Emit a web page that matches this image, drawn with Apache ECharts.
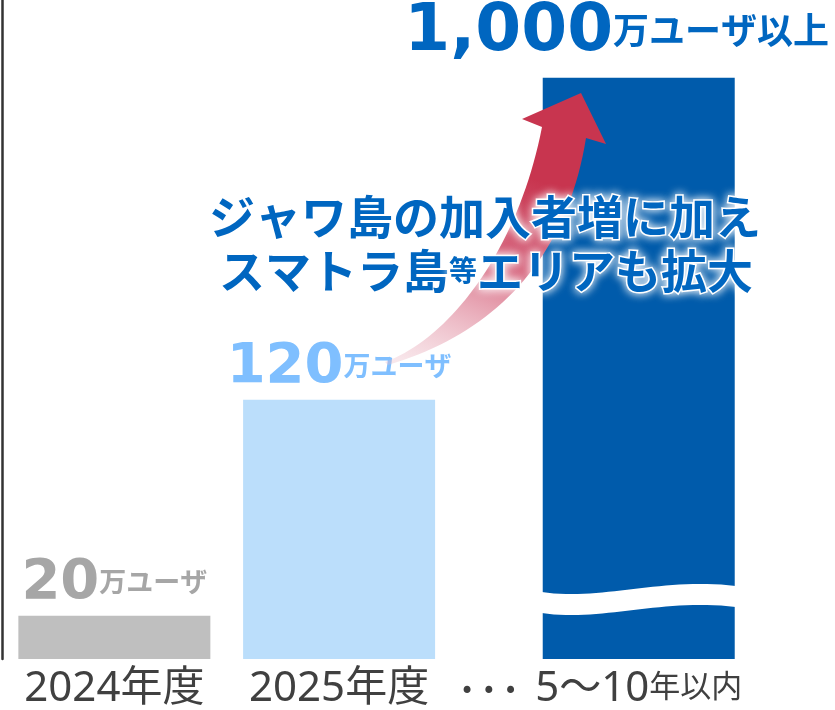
<!DOCTYPE html>
<html>
<head>
<meta charset="utf-8">
<script src="https://cdn.jsdelivr.net/npm/echarts@6/dist/echarts.min.js"></script>
<style>
  html, body { margin: 0; padding: 0; background: #fff; }
  #main { width: 835px; height: 710px; }
</style>
</head>
<body>
<div id="main"></div>
<script>
// data
const categories = ['2024年度', '2025年度', '5～10年以内'];
const users = [20, 120, 1000]; // 万ユーザ
const unitLabels = ['万ユーザ', '万ユーザ', '万ユーザ以上'];
const gapLabel = '• • •';
const noteLines = ['ジャワ島の加入者増に加え', ['スマトラ島', '等', 'エリアも拡大']];

const barColors = ['#bfbfbf', '#bbdefb', '#005bab'];
const labelColors = ['#a6a6a6', '#7fbfff', '#0066c0'];

// layout: bars sit on a slotted category axis so the gap before the last bar is wider
const slotCount = 11;
const barSlots = [1, 4, 8];
const dotsSlot = 6;

const xData = [];
for (let i = 0; i < slotCount; i++) xData.push('s' + i);

const seriesData = xData.map(() => '-');
barSlots.forEach((s, i) => {
    seriesData[s] = {
        value: users[i],
        itemStyle: { color: barColors[i] }
    };
});

const glow = { textShadowColor: '#fff', textShadowBlur: 8 };
const labelRich = {
    n0: Object.assign({ fontFamily: 'DejaVu Sans', fontWeight: 'bold', fontSize: 56, color: labelColors[0] }, glow),
    u0: Object.assign({ fontFamily: 'Noto Sans CJK JP', fontWeight: 'bold', fontSize: 27, color: labelColors[0], padding: [0, 0, 4, 0] }, glow),
    n1: Object.assign({ fontFamily: 'DejaVu Sans', fontWeight: 'bold', fontSize: 56, color: labelColors[1] }, glow),
    u1: Object.assign({ fontFamily: 'Noto Sans CJK JP', fontWeight: 'bold', fontSize: 27, color: labelColors[1], padding: [0, 0, 4, 0] }, glow),
    n2: Object.assign({ fontFamily: 'DejaVu Sans', fontWeight: 'bold', fontSize: 66, color: labelColors[2] }, glow),
    u2: Object.assign({ fontFamily: 'Noto Sans CJK JP', fontWeight: 'bold', fontSize: 36, color: labelColors[2], padding: [0, 0, 5, 0] }, glow)
};

const axisFont = '"Noto Sans", "Noto Sans CJK JP", sans-serif';

const option = {
    animation: false,
    backgroundColor: '#fff',
    grid: { left: 2, top: 0, width: 824, bottom: 51 },
    xAxis: {
        type: 'category',
        data: xData,
        axisLine: { show: false },
        axisTick: { show: false },
        axisLabel: {
            interval: 0,
            margin: 9,
            formatter: function (value, idx) {
                const k = barSlots.indexOf(idx);
                if (k === 2) {
                    const m = categories[k].match(/^([0-9～]+)(.*)$/);
                    return '{big|' + m[1] + '}{small|' + m[2] + '}';
                }
                if (k >= 0) return '{big|' + categories[k] + '}';
                if (idx === dotsSlot) return '{dots|' + gapLabel + '}';
                return '';
            },
            rich: {
                big: { fontFamily: axisFont, fontSize: 42, color: '#404040' },
                small: { fontFamily: axisFont, fontSize: 31, color: '#404040', padding: [0, 0, 2, 0] },
                dots: { fontFamily: 'DejaVu Sans', fontSize: 24, color: '#404040', lineHeight: 50, verticalAlign: 'middle' }
            }
        }
    },
    yAxis: [{
        type: 'value',
        min: 0,
        max: 1036,
        breaks: [{ start: 200, end: 960, gap: 29 }],
        breakArea: { show: false },
        axisLine: { show: false },
        axisTick: { show: false },
        axisLabel: { show: false },
        splitLine: { show: false }
    }, {
        // plain left rule, drawn unbroken
        type: 'value',
        position: 'left',
        min: 0,
        max: 1,
        axisLine: { show: true, onZero: false, lineStyle: { color: '#333', width: 2.5 } },
        axisTick: { show: false },
        axisLabel: { show: false },
        splitLine: { show: false }
    }],
    series: [{
        type: 'bar',
        barWidth: 192,
        data: seriesData,
        z: 2,
        label: {
            show: true,
            position: 'top',
            distance: 4,
            formatter: function (p) {
                const k = barSlots.indexOf(p.dataIndex);
                return '{n' + k + '|' + users[k].toLocaleString('en-US') + '}{u' + k + '|' + unitLabels[k] + '}';
            },
            rich: labelRich
        },
        labelLayout: function (p) {
            if (p.dataIndex === barSlots[2]) return { dx: -22, dy: -8 };
            return {};
        }
    }]
};

const chart = echarts.init(document.getElementById('main'));
chart.setOption(option);

// sample a cubic bezier into polygon points
function bez(p0, p1, p2, p3, n) {
    const pts = [];
    for (let i = 0; i <= n; i++) {
        const t = i / n, u = 1 - t;
        pts.push([
            u * u * u * p0[0] + 3 * u * u * t * p1[0] + 3 * u * t * t * p2[0] + t * t * t * p3[0],
            u * u * u * p0[1] + 3 * u * u * t * p1[1] + 3 * u * t * t * p2[1] + t * t * t * p3[1]
        ]);
    }
    return pts;
}

// decorations: wave cut in the last bar, growth arrow, note text
const cx = chart.convertToPixel({ xAxisIndex: 0 }, barSlots[2]);
const L = cx - 97, R = cx + 97;
const wavePts = bez([L, 592], [L + 60, 601], [L + 120, 577], [R, 586], 30)
    .concat(bez([R, 607], [L + 120, 598], [L + 60, 622], [L, 613], 30));

const arrowPts = bez([385, 362], [450, 338], [518, 250], [542, 127], 40)
    .concat([[522, 119], [581, 93], [606, 144], [586, 138]])
    .concat(bez([586, 138], [566, 262], [492, 334], [388, 365], 40));

const noteFont = 'bold 46px "Noto Sans CJK JP"';
const haloStyle = { fill: '#0066c0', stroke: '#fff', lineWidth: 3, textShadowColor: '#fff', textShadowBlur: 10 };

chart.setOption({
    graphic: [
        {
            type: 'polygon',
            z: 5,
            shape: { points: wavePts },
            style: { fill: '#fff' }
        },
        {
            type: 'polygon',
            z: 10,
            shape: { points: arrowPts },
            style: {
                fill: {
                    type: 'linear',
                    x: 0.1, y: 1, x2: 0.6, y2: 0,
                    colorStops: [
                        { offset: 0, color: 'rgba(236, 186, 198, 0.35)' },
                        { offset: 0.45, color: '#d86a82' },
                        { offset: 0.75, color: '#c8354f' },
                        { offset: 1, color: '#c8354f' }
                    ]
                }
            }
        },
        {
            type: 'text',
            z: 20,
            x: 485,
            y: 217,
            style: Object.assign({
                text: noteLines[0],
                font: noteFont,
                textAlign: 'center',
                textVerticalAlign: 'middle'
            }, haloStyle)
        },
        {
            type: 'text',
            z: 20,
            x: 486,
            y: 271,
            style: {
                text: '{a|' + noteLines[1][0] + '}{b|' + noteLines[1][1] + '}{a|' + noteLines[1][2] + '}',
                textAlign: 'center',
                textVerticalAlign: 'middle',
                rich: {
                    a: Object.assign({ font: noteFont }, haloStyle),
                    b: Object.assign({ font: 'bold 28px "Noto Sans CJK JP"', padding: [0, 0, 2, 0] }, haloStyle)
                }
            }
        }
    ]
});

window.addEventListener('resize', function () {
    chart.resize();
});
</script>
</body>
</html>
